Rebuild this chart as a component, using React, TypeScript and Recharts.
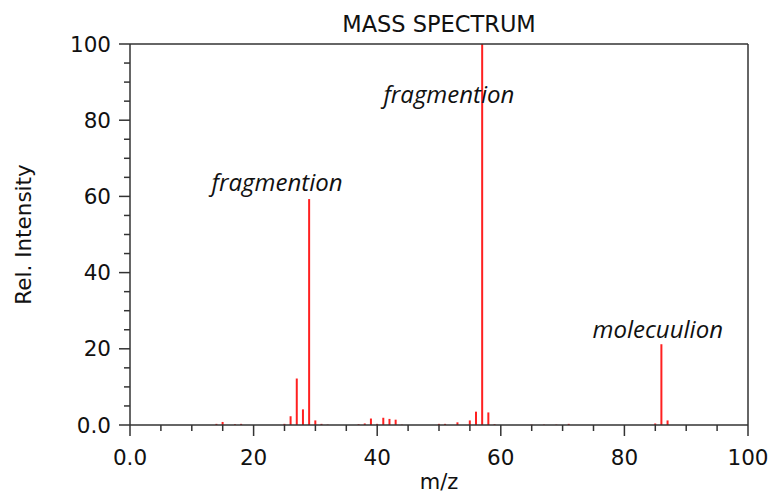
import React from 'react';
import { ComposedChart, Bar, XAxis, YAxis, ReferenceLine, ReferenceDot } from 'recharts';

const mzValues = [14, 15, 17, 18, 25, 26, 27, 28, 29, 30, 31, 32, 37, 38, 39, 40, 41, 42, 43, 44, 50, 51, 53, 55, 56, 57, 58, 59, 65, 67, 69, 71, 85, 86, 87];
const intensities = [0.3, 0.8, 0.2, 0.3, 0.3, 2.3, 12.2, 4.1, 59.3, 1.2, 0.3, 0.1, 0.2, 0.4, 1.7, 0.3, 1.9, 1.6, 1.4, 0.1, 0.3, 0.3, 0.7, 1.2, 3.5, 100, 3.3, 0.2, 0.1, 0.1, 0.1, 0.3, 0.4, 21.2, 1.2];

const tickValues = [0, 5, 10, 15, 20, 25, 30, 35, 40, 45, 50, 55, 60, 65, 70, 75, 80, 85, 90, 95, 100];
const majorTicks = [0, 20, 40, 60, 80, 100];
const majorTickLabels = ['0.0', '20', '40', '60', '80', '100'];

const annotationTexts = ['fragmention', 'fragmention', 'molecuulion'];
const annotationMz = [23.8, 51.6, 85.4];
const annotationIntensity = [61.4, 84.5, 22.8];

const chartTitle = 'MASS SPECTRUM';
const xTitle = 'm/z';
const yTitle = 'Rel. Intensity';

const data = mzValues.map((mz, i) => ({ mz, intensity: intensities[i] }));

const AXIS = '#333';
const FONT = 'DejaVu Sans';

const labelFor = (v: number) => {
  const idx = majorTicks.indexOf(v);
  return idx >= 0 ? majorTickLabels[idx] : null;
};

const XTick = (props: any) => {
  const { x, y, payload } = props;
  const lbl = labelFor(payload.value);
  const major = lbl !== null;
  return (
    <g>
      <line x1={x} x2={x} y1={y} y2={y + (major ? 11 : 6)} stroke={AXIS} strokeWidth={1.5} />
      {major && (
        <text x={x} y={y + 40} textAnchor="middle" fontSize={21.5} fill="#111" fontFamily={FONT}>
          {lbl}
        </text>
      )}
    </g>
  );
};

const YTick = (props: any) => {
  const { x, y, payload } = props;
  const lbl = labelFor(payload.value);
  const major = lbl !== null;
  return (
    <g>
      <line x1={x} x2={x - (major ? 11 : 6)} y1={y} y2={y} stroke={AXIS} strokeWidth={1.5} />
      {major && (
        <text x={x - 19} y={y + 7.5} textAnchor="end" fontSize={21.5} fill="#111" fontFamily={FONT}>
          {lbl}
        </text>
      )}
    </g>
  );
};

const XLabel = (props: any) => {
  const vb = props.viewBox || {};
  return (
    <text x={vb.x + vb.width / 2} y={vb.y + 64} textAnchor="middle" fontSize={21} fill="#111" fontFamily={FONT}>
      {xTitle}
    </text>
  );
};

const YLabel = (props: any) => {
  const vb = props.viewBox || {};
  const cx = 31;
  const cy = vb.y + vb.height / 2;
  return (
    <text x={cx} y={cy} transform={`rotate(-90 ${cx} ${cy})`} textAnchor="middle" fontSize={21.5} fill="#111" fontFamily={FONT}>
      {yTitle}
    </text>
  );
};

const TitleLabel = (props: any) => {
  const vb = props.viewBox || {};
  return (
    <text x={vb.x + vb.width / 2} y={vb.y - 12} textAnchor="middle" fontSize={22.5} fill="#111" fontFamily={FONT}>
      {chartTitle}
    </text>
  );
};

const makeAnnot = (text: string) => (props: any) => {
  const vb = props.viewBox || {};
  return (
    <text x={vb.x} y={vb.y} textAnchor="middle" fontSize={24} fontStyle="italic" fill="#111" fontFamily="Open Sans">
      {text}
    </text>
  );
};

export default function App() {
  return (
    <div style={{ position: 'absolute', left: 0, top: 0 }}>
      <ComposedChart width={784} height={495} data={data} margin={{ top: 44, right: 36, bottom: 0, left: 0 }}>
        <XAxis
          dataKey="mz"
          type="number"
          domain={[0, 100]}
          ticks={tickValues}
          interval={0}
          height={70}
          tickSize={0}
          tickMargin={0}
          tickLine={false}
          tick={<XTick />}
          axisLine={{ stroke: AXIS, strokeWidth: 1.5 }}
          label={<XLabel />}
          allowDataOverflow
        />
        <YAxis
          type="number"
          domain={[0, 100]}
          ticks={tickValues}
          interval={0}
          width={130}
          tickSize={0}
          tickMargin={0}
          tickLine={false}
          tick={<YTick />}
          axisLine={{ stroke: AXIS, strokeWidth: 1.5 }}
          label={<YLabel />}
          allowDataOverflow
        />
        <ReferenceLine y={100} stroke={AXIS} strokeWidth={1.5} label={<TitleLabel />} />
        <ReferenceLine x={100} stroke={AXIS} strokeWidth={1.5} />
        <Bar dataKey="intensity" fill="#ff2020" barSize={2} isAnimationActive={false} />
        {annotationTexts.map((t, i) => (
          <ReferenceDot
            key={i}
            x={annotationMz[i]}
            y={annotationIntensity[i]}
            r={0}
            fill="none"
            stroke="none"
            label={makeAnnot(t)}
          />
        ))}
      </ComposedChart>
    </div>
  );
}
